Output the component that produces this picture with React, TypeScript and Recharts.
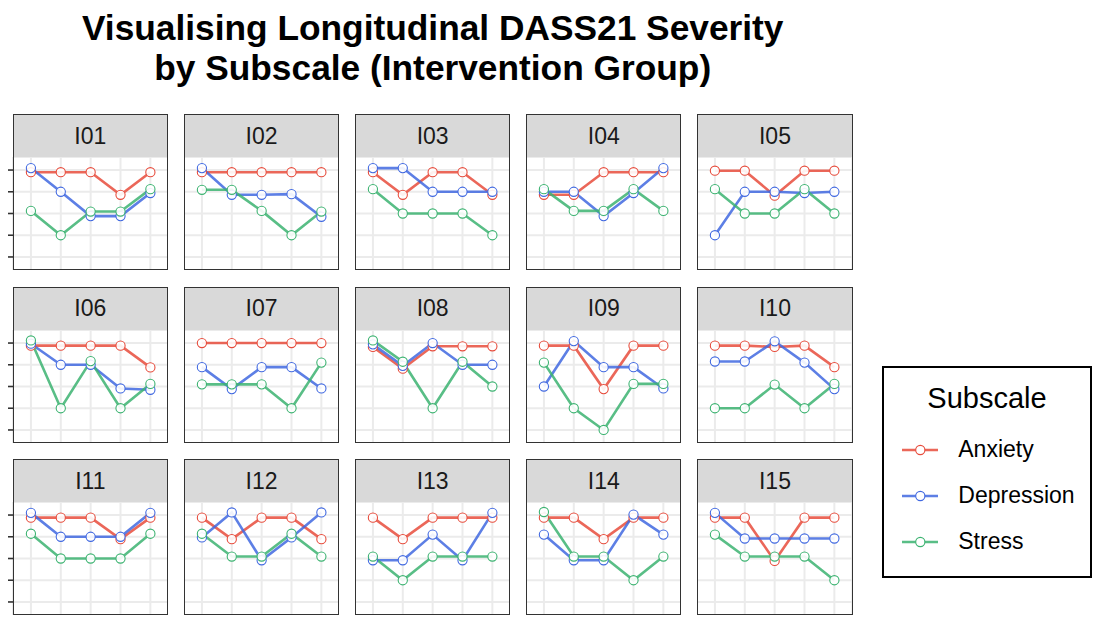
import React from 'react';
import { LineChart, Line, XAxis, YAxis, CartesianGrid } from 'recharts';

const participants = ['I01', 'I02', 'I03', 'I04', 'I05', 'I06', 'I07', 'I08', 'I09', 'I10', 'I11', 'I12', 'I13', 'I14', 'I15'];
const timepoints = [1, 2, 3, 4, 5];
const severityLevels = [1, 2, 3, 4, 5];
const subscales = ['Anxiety', 'Depression', 'Stress'];

const anxiety = [
  [4.9, 4.9, 4.9, 3.86, 4.9],
  [4.9, 4.9, 4.9, 4.9, 4.9],
  [4.9, 3.86, 4.9, 4.9, 3.86],
  [3.86, 3.86, 4.9, 4.9, 4.9],
  [4.97, 4.97, 3.82, 4.97, 4.97],
  [4.88, 4.88, 4.88, 4.88, 3.88],
  [5.0, 5.0, 5.0, 5.0, 5.0],
  [4.82, 3.82, 4.85, 4.85, 4.85],
  [4.88, 4.88, 2.88, 4.88, 4.88],
  [4.88, 4.88, 4.82, 4.88, 3.89],
  [4.88, 4.88, 4.88, 3.89, 4.88],
  [4.88, 3.89, 4.88, 4.88, 3.89],
  [4.88, 3.89, 4.88, 4.88, 4.88],
  [4.88, 4.88, 3.89, 4.88, 4.88],
  [4.88, 4.88, 2.89, 4.88, 4.88],
];

const depression = [
  [5.09, 4.0, 2.88, 2.88, 3.94],
  [5.09, 3.86, 3.86, 3.89, 2.85],
  [5.09, 5.09, 4.0, 4.0, 4.0],
  [4.0, 4.0, 2.88, 3.94, 5.09],
  [2.0, 4.0, 4.0, 3.94, 4.0],
  [4.97, 4.0, 4.0, 2.91, 2.85],
  [3.89, 2.88, 3.89, 3.89, 2.91],
  [4.94, 3.95, 5.0, 4.0, 4.0],
  [3.0, 5.09, 3.89, 3.89, 2.91],
  [4.15, 4.15, 5.08, 4.1, 2.88],
  [5.1, 4.0, 4.0, 4.0, 5.1],
  [3.97, 5.12, 2.92, 3.97, 5.12],
  [2.92, 2.92, 4.1, 2.92, 5.1],
  [4.1, 2.92, 2.92, 5.02, 4.1],
  [5.1, 3.92, 3.92, 3.92, 3.92],
];

const stress = [
  [3.12, 2.0, 3.09, 3.09, 4.12],
  [4.09, 4.09, 3.12, 2.0, 3.09],
  [4.12, 3.0, 3.0, 3.0, 2.0],
  [4.12, 3.12, 3.12, 4.12, 3.12],
  [4.12, 3.0, 3.0, 4.12, 3.0],
  [5.12, 2.0, 4.17, 2.0, 3.12],
  [3.1, 3.1, 3.1, 2.0, 4.1],
  [5.12, 4.14, 2.0, 4.14, 3.0],
  [4.1, 2.0, 1.0, 3.12, 3.12],
  [2.0, 2.0, 3.09, 2.0, 3.12],
  [4.14, 3.0, 3.0, 3.0, 4.14],
  [4.14, 3.09, 3.09, 4.14, 3.09],
  [3.09, 2.0, 3.09, 3.09, 3.09],
  [5.14, 3.09, 3.09, 2.0, 3.09],
  [4.1, 3.09, 3.09, 3.09, 2.0],
];

const colors: Record<string, string> = {
  Anxiety: '#E74C3C',
  Depression: '#4169E1',
  Stress: '#3CB371',
};

const FONT = '"Liberation Sans", Arial, Helvetica, sans-serif';
const COL0 = 4.7;
const COL_PITCH = 171.15;
const PANEL_W = 155.3;
const ROW0 = 106;
const ROW_PITCH = 172.5;
const STRIP_H = 43;
const PANEL_H = 113;
const TICK_W = 8;
const DOMAIN: [number, number] = [0.4, 5.6];
const DOT_R = 4.6;
const LINE_W = 2.6;

const emptyTick = () => <g />;

function Panel({ idx }: { idx: number }) {
  const r = Math.floor(idx / 5);
  const c = idx % 5;
  const left = COL0 + c * COL_PITCH;
  const top = ROW0 + r * ROW_PITCH;
  const showY = c === 0;
  const chartW = PANEL_W + (showY ? TICK_W : 0);
  const data = timepoints.map((t, i) => ({
    t,
    Anxiety: anxiety[idx][i],
    Depression: depression[idx][i],
    Stress: stress[idx][i],
  }));
  return (
    <>
      <div
        style={{
          position: 'absolute',
          left,
          top,
          width: PANEL_W,
          height: STRIP_H + 1.3,
          background: '#D9D9D9',
          border: '1.3px solid #333333',
          boxSizing: 'border-box',
          display: 'flex',
          alignItems: 'center',
          justifyContent: 'center',
          fontSize: 23,
          color: '#1A1A1A',
        }}
      >
        {participants[idx]}
      </div>
      <div
        style={{
          position: 'absolute',
          left: left - (showY ? TICK_W : 0),
          top: top + STRIP_H,
          width: chartW,
          height: PANEL_H,
        }}
      >
        <LineChart width={chartW} height={PANEL_H} data={data} margin={{ top: 0, right: 0, bottom: 0, left: 0 }}>
          <CartesianGrid stroke="#EBEBEB" strokeWidth={2} />
          <XAxis dataKey="t" type="number" domain={DOMAIN} ticks={timepoints} interval={0} hide allowDataOverflow />
          <YAxis
            type="number"
            domain={DOMAIN}
            ticks={severityLevels}
            interval={0}
            hide={!showY}
            width={showY ? TICK_W : 0}
            axisLine={false}
            tickSize={TICK_W}
            tick={emptyTick}
            tickLine={{ stroke: '#333333', strokeWidth: 1.6 }}
            allowDataOverflow
          />
          {subscales.map((s) => (
            <Line
              key={'l' + s}
              type="linear"
              dataKey={s}
              stroke={colors[s]}
              strokeWidth={LINE_W}
              strokeOpacity={0.85}
              dot={false}
              activeDot={false}
              isAnimationActive={false}
            />
          ))}
          {subscales.map((s) => (
            <Line
              key={'p' + s}
              type="linear"
              dataKey={s}
              stroke="none"
              dot={{ r: DOT_R, fill: '#FFFFFF', fillOpacity: 0.9, stroke: colors[s], strokeWidth: 1.1 }}
              activeDot={false}
              isAnimationActive={false}
            />
          ))}
        </LineChart>
      </div>
      <div
        style={{
          position: 'absolute',
          left,
          top: top + STRIP_H,
          width: PANEL_W,
          height: PANEL_H,
          borderLeft: '1.3px solid #333333',
          borderRight: '1.3px solid #333333',
          borderBottom: '1.3px solid #333333',
          boxSizing: 'border-box',
          pointerEvents: 'none',
        }}
      />
    </>
  );
}

function LegendBox() {
  return (
    <div
      style={{
        position: 'absolute',
        left: 874,
        top: 358,
        width: 210,
        height: 212,
        border: '2px solid #000000',
        boxSizing: 'border-box',
        background: '#FFFFFF',
      }}
    >
      <div
        style={{
          position: 'absolute',
          top: 15.6,
          left: 0,
          width: '100%',
          textAlign: 'center',
          fontSize: 29,
          lineHeight: '29px',
          color: '#000000',
        }}
      >
        Subscale
      </div>
      {subscales.map((s, i) => (
        <div
          key={s}
          style={{
            position: 'absolute',
            left: 17.7,
            top: 66.5 + i * 46.2,
            height: 30,
            display: 'flex',
            alignItems: 'center',
            fontSize: 23,
            color: '#000000',
            whiteSpace: 'nowrap',
          }}
        >
          <svg width={36.6} height={12} style={{ display: 'block' }}>
            <line x1={0} y1={6} x2={36.6} y2={6} stroke={colors[s]} strokeWidth={LINE_W} strokeOpacity={0.85} />
            <circle cx={18.3} cy={6} r={DOT_R} fill="#FFFFFF" stroke={colors[s]} strokeWidth={1.1} />
          </svg>
          <span style={{ marginLeft: 20 }}>{s}</span>
        </div>
      ))}
    </div>
  );
}

export default function App() {
  return (
    <div style={{ position: 'relative', width: 1090, height: 607, fontFamily: FONT, background: '#FFFFFF' }}>
      <div
        style={{
          position: 'absolute',
          left: 0,
          top: 0,
          width: 849.4,
          textAlign: 'center',
          fontSize: 35.3,
          lineHeight: '40px',
          fontWeight: 'bold',
          color: '#000000',
        }}
      >
        Visualising Longitudinal DASS21 Severity
        <br />
        by Subscale (Intervention Group)
      </div>
      {participants.map((p, i) => (
        <Panel key={p} idx={i} />
      ))}
      <LegendBox />
    </div>
  );
}
